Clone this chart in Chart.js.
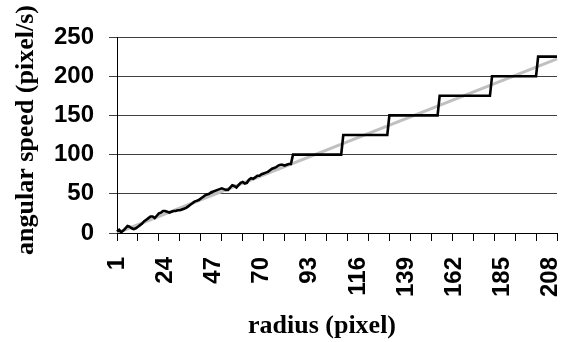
<!DOCTYPE html>
<html><head><meta charset="utf-8">
<script src="https://cdn.jsdelivr.net/npm/chart.js@4/dist/chart.umd.min.js"></script>
<style>html,body{margin:0;padding:0;background:#fff}canvas{display:block}</style>
</head><body>
<canvas id="c" width="565" height="342"></canvas>
<script>
// categories: radius (pixel)
const radii = [
  1,2,3,4,5,6,7,8,9,10,11,12,13,14,15,16,17,18,19,20,
  21,22,23,24,25,26,27,28,29,30,31,32,33,34,35,36,37,38,39,40,
  41,42,43,44,45,46,47,48,49,50,51,52,53,54,55,56,57,58,59,60,
  61,62,63,64,65,66,67,68,69,70,71,72,73,74,75,76,77,78,79,80,
  81,82,83,84,85,86,87,88,89,90,91,92,93,94,95,96,97,98,99,100,
  101,102,103,104,105,106,107,108,109,110,111,112,113,114,115,116,117,118,119,120,
  121,122,123,124,125,126,127,128,129,130,131,132,133,134,135,136,137,138,139,140,
  141,142,143,144,145,146,147,148,149,150,151,152,153,154,155,156,157,158,159,160,
  161,162,163,164,165,166,167,168,169,170,171,172,173,174,175,176,177,178,179,180,
  181,182,183,184,185,186,187,188,189,190,191,192,193,194,195,196,197,198,199,200,
  201,202,203,204,205,206,207,208,209,210,211
];
// measured angular speed (pixel/s), black line
const measuredSpeed = [
  2,4,1,3,6,9,8,6,5,6,
  8,10,12,15,17,19,21,21,19,22,
  25,26,28,28,27,26,27,28,28,29,
  29,30,31,32,34,36,38,40,41,42,
  44,46,48,49,50,52,53,54,55,56,
  57,56,55,55,58,61,60,58,61,64,
  65,63,64,68,70,69,71,73,73,75,
  76,77,78,80,82,83,84,86,87,87,
  86,87,88,88,100,100,100,100,100,100,
  100,100,100,100,100,100,100,100,100,100,
  100,100,100,100,100,100,100,100,125,125,
  125,125,125,125,125,125,125,125,125,125,
  125,125,125,125,125,125,125,125,125,125,
  150,150,150,150,150,150,150,150,150,150,
  150,150,150,150,150,150,150,150,150,150,
  150,150,150,150,175,175,175,175,175,175,
  175,175,175,175,175,175,175,175,175,175,
  175,175,175,175,175,175,175,175,175,200,
  200,200,200,200,200,200,200,200,200,200,
  200,200,200,200,200,200,200,200,200,200,
  200,225,225,225,225,225,225,225,225,225,
  225
];
// straight grey reference line: end points
const fitRadii = [1, 211];
const fitSpeed = [0, 222];
// axis labels
const xTickLabels = [1, 24, 47, 70, 93, 116, 139, 162, 185, 208];
const yTickValues = [0, 50, 100, 150, 200, 250];
const xTitleText = 'radius (pixel)';
const yTitleText = 'angular speed (pixel/s)';

const fitData = radii.map(r => { const i = fitRadii.indexOf(r); return i >= 0 ? fitSpeed[i] : null; });

const tickFont = {family: "'Liberation Sans', Arial, sans-serif", size: 24, weight: 'bold'};
const titleFont = {family: "'Liberation Serif', 'Times New Roman', serif", size: 26, weight: 'bold'};

const shiftTitles = {
  id: 'shiftTitles',
  beforeDraw(chart) {
    const patch = (s, dx, dy) => {
      if (!s || s._shiftPatched) return;
      const orig = s.drawTitle.bind(s);
      s.drawTitle = function () {
        const c = this.ctx; c.save(); c.translate(dx, dy); orig(); c.restore();
      };
      s._shiftPatched = true;
    };
    patch(chart.scales.x, -15, 0);
    patch(chart.scales.y, 0, -5);
  }
};

new Chart(document.getElementById('c'), {
  type: 'line',
  data: {
    labels: radii,
    datasets: [
      {label: 'measured', data: measuredSpeed, borderColor: '#000', borderWidth: 2.6,
       pointRadius: 0, tension: 0, fill: false},
      {label: 'linear', data: fitData, borderColor: '#c0c0c0', borderWidth: 3,
       pointRadius: 0, tension: 0, fill: false, spanGaps: true}
    ]
  },
  options: {
    responsive: false,
    animation: false,
    devicePixelRatio: 1,
    layout: {padding: {left: 0, right: 8, top: 37, bottom: 0}},
    plugins: {legend: {display: false}, tooltip: {enabled: false}},
    scales: {
      x: {
        type: 'category',
        offset: false,
        border: {display: true, color: '#000', width: 1},
        grid: {
          drawOnChartArea: false, drawTicks: true, tickLength: 8,
          color: ctx => (ctx.index % 10 === 0 ? '#000' : 'rgba(0,0,0,0)')
        },
        ticks: {
          autoSkip: false, minRotation: 90, maxRotation: 90, padding: 16,
          color: '#000', font: tickFont,
          callback: function (v, i) {
            const l = this.getLabelForValue(v);
            return xTickLabels.includes(Number(l)) ? String(l) : '';
          }
        },
        title: {display: true, text: xTitleText, color: '#000', font: titleFont, padding: {top: 0, bottom: 0}},
        afterFit: s => { s.height = 109; s.paddingLeft = 0; s.paddingRight = 0; }
      },
      y: {
        min: 0, max: 250,
        border: {display: true, color: '#000', width: 1},
        grid: {color: '#404040', lineWidth: 1, tickLength: 8, drawTicks: true},
        afterBuildTicks: s => { s.ticks = yTickValues.map(v => ({value: v})); },
        ticks: {color: '#000', font: tickFont, padding: 15},
        title: {display: true, text: yTitleText, color: '#000', font: titleFont, padding: {top: 11, bottom: 4}},
        afterFit: s => { s.width = 117; }
      }
    }
  },
  plugins: [shiftTitles]
});
</script>
</body></html>
